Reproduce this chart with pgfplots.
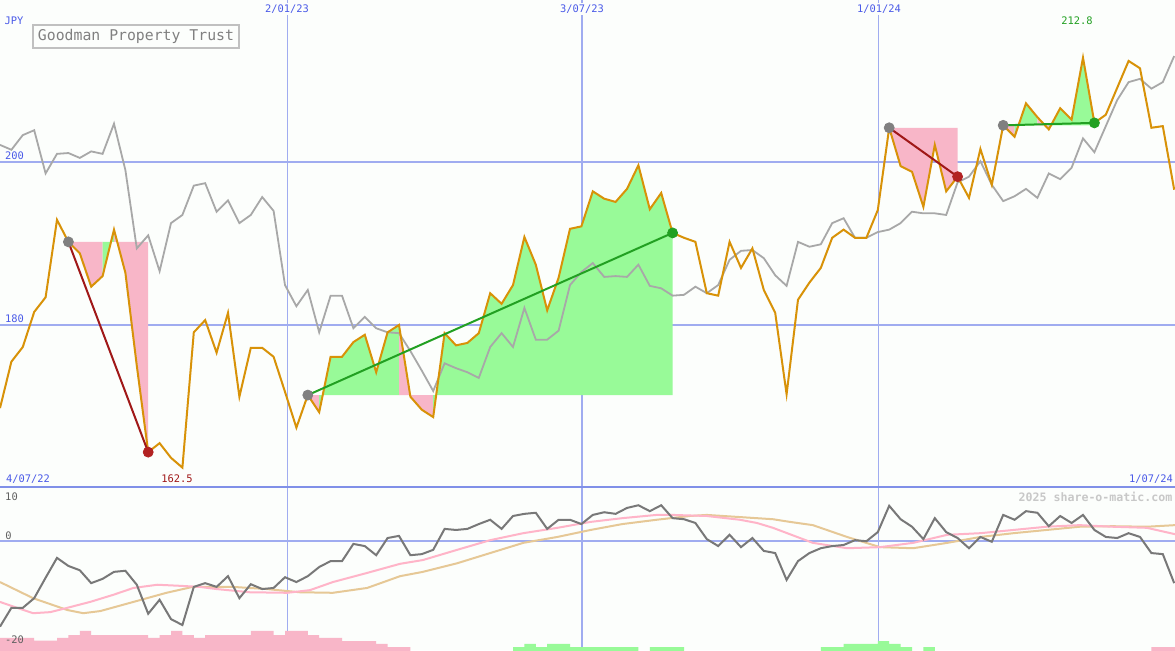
\documentclass[border=0pt]{standalone}
\usepackage{fontspec}
\setmainfont{DejaVu Sans Mono}
\usepackage{pgfplots}
\usepackage{pgfplotstable}
\pgfplotsset{compat=1.18}

\definecolor{bgcol}{RGB}{252,254,252}
\definecolor{gridblue}{RGB}{160,172,240}
\definecolor{borderblue}{RGB}{128,144,232}
\definecolor{labelblue}{RGB}{74,90,232}
\definecolor{goldline}{RGB}{216,146,8}
\definecolor{grayline}{RGB}{168,168,168}
\definecolor{tpink}{RGB}{248,182,200}
\definecolor{tgreen}{RGB}{152,250,152}
\definecolor{trendred}{RGB}{160,24,24}
\definecolor{dotred}{RGB}{178,34,34}
\definecolor{trendgreen}{RGB}{34,160,34}
\definecolor{dotgray}{RGB}{128,128,128}
\definecolor{oscgray}{RGB}{120,120,120}
\definecolor{mapink}{RGB}{255,180,200}
\definecolor{matan}{RGB}{230,200,150}
\definecolor{boxgray}{RGB}{192,192,192}
\definecolor{titlegray}{RGB}{128,128,128}
\definecolor{lowlabel}{RGB}{96,96,96}
\definecolor{wmark}{RGB}{200,200,200}

% weekly closes, JPY (week index k)
\pgfplotstableread{
k p
0 169.8
1 175.5
2 177.3
3 181.6
4 183.4
5 192.9
6 190.2
7 188.8
8 184.7
9 186.0
10 191.7
11 186.4
12 175.0
13 164.4
14 165.5
15 163.7
16 162.5
17 179.1
18 180.6
19 176.6
20 181.5
21 171.2
22 177.2
23 177.2
24 176.1
25 171.8
26 167.4
27 171.4
28 169.3
29 176.1
30 176.1
31 177.9
32 178.8
33 174.2
34 179.1
35 180.0
36 171.2
37 169.6
38 168.7
39 179.0
40 177.5
41 177.8
42 179.0
43 183.9
44 182.6
45 184.9
46 190.8
47 187.4
48 181.8
49 185.8
50 191.8
51 192.1
52 196.4
53 195.5
54 195.1
55 196.7
56 199.6
57 194.2
58 196.2
59 191.3
60 190.7
61 190.2
62 183.9
63 183.6
64 190.2
65 187.0
66 189.4
67 184.3
68 181.5
69 171.5
70 183.1
71 185.2
72 187.0
73 190.7
74 191.7
75 190.7
76 190.7
77 194.1
78 204.2
79 199.5
80 198.8
81 194.5
82 202.1
83 196.4
84 198.2
85 195.6
86 201.6
87 197.2
88 204.5
89 203.1
90 207.2
91 205.5
92 204.0
93 206.6
94 205.2
95 212.8
96 204.8
97 205.8
98 209.1
99 212.4
100 211.5
101 204.2
102 204.4
103 196.6
}\goldtab

% relative index, scaled to the price axis
\pgfplotstableread{
k p
0 202.1
1 201.5
2 203.3
3 203.9
4 198.6
5 201.0
6 201.1
7 200.5
8 201.3
9 201.0
10 204.7
11 199.0
12 189.4
13 191.0
14 186.6
15 192.5
16 193.5
17 197.1
18 197.4
19 193.9
20 195.3
21 192.5
22 193.5
23 195.7
24 194.0
25 184.9
26 182.3
27 184.3
28 179.1
29 183.6
30 183.6
31 179.6
32 181.0
33 179.6
34 179.1
35 179.0
36 176.8
37 174.4
38 171.9
39 175.3
40 174.7
41 174.2
42 173.5
43 177.3
44 179.0
45 177.3
46 182.1
47 178.2
48 178.2
49 179.3
50 184.9
51 186.5
52 187.6
53 185.9
54 186.0
55 185.9
56 187.4
57 184.8
58 184.5
59 183.6
60 183.7
61 184.7
62 183.9
63 184.9
64 188.0
65 189.1
66 189.2
67 188.2
68 186.1
69 184.8
70 190.2
71 189.6
72 189.9
73 192.5
74 193.1
75 190.7
76 190.7
77 191.4
78 191.7
79 192.5
80 193.9
81 193.7
82 193.7
83 193.5
84 197.5
85 198.2
86 200.1
87 197.2
88 195.2
89 195.8
90 196.7
91 195.6
92 198.6
93 197.9
94 199.3
95 202.9
96 201.2
97 204.4
98 207.6
99 209.8
100 210.2
101 209.0
102 209.8
103 213.0
}\graytab

% oscillator
\pgfplotstableread{
k v
0 -16.0
1 -12.5
2 -12.5
3 -10.7
4 -6.9
5 -3.2
6 -4.7
7 -5.5
8 -7.9
9 -7.1
10 -5.8
11 -5.6
12 -8.2
13 -13.6
14 -11.0
15 -14.6
16 -15.7
17 -8.6
18 -7.9
19 -8.6
20 -6.6
21 -10.7
22 -8.1
23 -9.0
24 -8.8
25 -6.8
26 -7.7
27 -6.6
28 -4.9
29 -3.8
30 -3.8
31 -0.6
32 -1.0
33 -2.7
34 0.5
35 0.9
36 -2.7
37 -2.5
38 -1.7
39 2.2
40 2.0
41 2.2
42 3.1
43 3.9
44 2.2
45 4.6
46 5.0
47 5.2
48 2.2
49 3.9
50 3.9
51 3.1
52 4.8
53 5.3
54 5.0
55 6.1
56 6.6
57 5.5
58 6.6
59 4.2
60 4.0
61 3.3
62 0.3
63 -1.0
64 1.1
65 -1.2
66 0.5
67 -1.9
68 -2.3
69 -7.3
70 -3.8
71 -2.3
72 -1.4
73 -1.0
74 -0.8
75 0.1
76 -0.1
77 1.6
78 6.5
79 4.0
80 2.6
81 0.3
82 4.2
83 1.6
84 0.5
85 -1.4
86 0.7
87 -0.2
88 4.8
89 3.9
90 5.5
91 5.2
92 2.7
93 4.6
94 3.3
95 4.8
96 2.0
97 0.7
98 0.5
99 1.4
100 0.7
101 -2.3
102 -2.5
103 -7.9
}\osctab

\pgfplotstableread{
k v
0 -11.4
1.5 -12.5
2.9 -13.5
4.4 -13.3
5.9 -12.5
7.9 -11.4
9.9 -10.1
11.7 -8.8
13.8 -8.2
15.8 -8.4
17.5 -8.6
19.0 -9.0
21.9 -9.6
25.2 -9.7
27.2 -9.2
29.2 -7.7
32.2 -6.0
35.1 -4.3
37.1 -3.6
40.1 -1.7
43.0 0.1
45.9 1.4
48.9 2.4
51.8 3.5
54.6 4.2
57.6 4.8
59.0 4.8
62.0 4.6
64.9 3.9
66.4 3.3
67.8 2.4
69.3 1.2
71.3 -0.4
74.3 -1.4
77.2 -1.2
80.1 -0.4
83.1 1.1
86.0 1.4
88.9 2.0
91.8 2.6
94.7 2.9
97.6 2.6
100.6 2.4
103.1 1.2
}\pinktab

\pgfplotstableread{
k v
0 -7.7
2.9 -10.7
5.9 -12.9
7.3 -13.5
8.8 -13.1
11.7 -11.4
14.6 -9.7
16.9 -8.6
20.4 -8.6
23.4 -9.0
26.3 -9.6
29.2 -9.7
32.2 -8.8
35.1 -6.6
37.1 -5.8
40.1 -4.2
43.0 -2.3
45.9 -0.4
48.9 0.7
51.8 2.0
54.6 3.1
57.6 3.9
60.5 4.6
62.0 4.8
64.9 4.4
67.8 4.0
69.3 3.5
71.3 2.9
74.3 0.7
77.2 -1.2
80.1 -1.4
83.1 -0.4
86.0 0.7
88.9 1.4
91.8 2.0
94.7 2.6
97.6 2.7
100.6 2.6
103.1 2.9
}\tantab

\pgfplotsset{
  panel/.style={
    scale only axis, width=587.5pt, xmin=0, xmax=103.07,
    axis line style={draw=none}, major tick length=0pt,
    xticklabels={}, yticklabels={}, extra x tick labels={}, extra y tick labels={},
    xtick={25.18,77.1}, xmajorgrids,
    major grid style={gridblue, line width=0.5pt},
    extra x ticks={51.05},
    extra x tick style={grid=major, major grid style={gridblue, line width=1.2pt}},
    ytick=\empty,
    extra y tick style={grid=major, major grid style={gridblue, line width=1.1pt}},
  },
}

\begin{document}
\begin{tikzpicture}
\fill[bgcol] (0,0) rectangle (587.5pt,325pt);
\useasboundingbox (0,0) rectangle (587.5pt,325pt);

% ---------- price panel ----------
\begin{axis}[panel, at={(0,81.5pt)}, anchor=south west, height=243.5pt,
  ymin=160.12, ymax=219.88, extra y ticks={180,200}]
  % trend shading: run of weeks below / above the start level
  \addplot[fill=tpink, draw=none] coordinates {(6,190.2) (7,188.8) (8,184.7) (9,186.0) (9,190.2)};
  \addplot[fill=tgreen, draw=none] coordinates {(9,190.2) (9,186.0) (10,191.7) (10,190.2)};
  \addplot[fill=tpink, draw=none] coordinates {(10,190.2) (10,191.7) (11,186.4) (12,175.0) (13,164.4) (13,190.2)};

  \addplot[fill=tpink, draw=none] coordinates {(27,171.4) (28,169.3) (28,171.4)};
  \addplot[fill=tgreen, draw=none] coordinates {(28,171.4) (28,169.3) (29,176.1) (30,176.1) (31,177.9)
    (32,178.8) (33,174.2) (34,179.1) (35,180.0) (35,171.4)};
  \addplot[fill=tpink, draw=none] coordinates {(35,171.4) (35,180.0) (36,171.2) (37,169.6) (38,168.7) (38,171.4)};
  \addplot[fill=tgreen, draw=none] coordinates {(38,171.4) (38,168.7) (39,179.0) (40,177.5) (41,177.8)
    (42,179.0) (43,183.9) (44,182.6) (45,184.9) (46,190.8) (47,187.4) (48,181.8) (49,185.8) (50,191.8)
    (51,192.1) (52,196.4) (53,195.5) (54,195.1) (55,196.7) (56,199.6) (57,194.2) (58,196.2) (59,191.3)
    (59,171.4)};

  \addplot[fill=tpink, draw=none] coordinates {(78,204.2) (79,199.5) (80,198.8) (81,194.5) (82,202.1)
    (83,196.4) (84,198.2) (84,204.2)};

  \addplot[fill=tpink, draw=none] coordinates {(88,204.5) (89,203.1) (89,204.5)};
  \addplot[fill=tgreen, draw=none] coordinates {(89,204.5) (89,203.1) (90,207.2) (91,205.5) (91,204.5)};
  \addplot[fill=tpink, draw=none] coordinates {(91,204.5) (91,205.5) (92,204.0) (92,204.5)};
  \addplot[fill=tgreen, draw=none] coordinates {(92,204.5) (92,204.0) (93,206.6) (94,205.2) (95,212.8)
    (96,204.8) (96,204.5)};

  \addplot[grayline, line width=0.9pt] table[x=k, y=p] {\graytab};
  \addplot[goldline, line width=1pt] table[x=k, y=p] {\goldtab};

  \addplot[trendred, line width=1pt] coordinates {(6,190.2) (13,164.4)};
  \addplot[trendgreen, line width=1pt] coordinates {(27,171.4) (59,191.3)};
  \addplot[trendred, line width=1pt] coordinates {(78,204.2) (84,198.2)};
  \addplot[trendgreen, line width=1pt] coordinates {(88,204.5) (96,204.8)};

  \addplot[only marks, mark=*, mark size=2.5pt, dotgray] coordinates {(6,190.2) (27,171.4) (78,204.2) (88,204.5)};
  \addplot[only marks, mark=*, mark size=2.5pt, dotred] coordinates {(13,164.4) (84,198.2)};
  \addplot[only marks, mark=*, mark size=2.5pt, trendgreen] coordinates {(59,191.3) (96,204.8)};
\end{axis}

% ---------- oscillator panel ----------
\begin{axis}[panel, at={(0,0)}, anchor=south west, height=81.5pt,
  ymin=-20.35, ymax=10, extra y ticks={0}]
  \addplot[const plot, fill=tpink, draw=none] coordinates {(0,-21) (0,-18.1) (3,-18.6) (5,-18.1)
    (6,-17.6) (7,-16.8) (8,-17.6) (13,-18.1) (14,-17.6) (15,-16.8) (16,-17.6) (17,-18.1) (18,-17.6)
    (22,-16.8) (24,-17.6) (25,-16.8) (27,-17.6) (28,-18.1) (30,-18.7) (33,-19.2) (34,-19.8) (36,-19.8)
    (36,-21)};
  \addplot[const plot, fill=tgreen, draw=none] coordinates {(45,-21) (45,-19.8) (46,-19.2) (47,-19.8)
    (48,-19.2) (50,-19.8) (56,-19.8) (56,-21)};
  \addplot[const plot, fill=tgreen, draw=none] coordinates {(57,-21) (57,-19.8) (60,-19.8) (60,-21)};
  \addplot[const plot, fill=tgreen, draw=none] coordinates {(72,-21) (72,-19.8) (74,-19.2) (77,-18.7)
    (78,-19.2) (79,-19.8) (80,-19.8) (80,-21)};
  \addplot[const plot, fill=tgreen, draw=none] coordinates {(81,-21) (81,-19.8) (82,-19.8) (82,-21)};
  \addplot[const plot, fill=tpink, draw=none] coordinates {(101,-21) (101,-19.8) (104,-19.8) (104,-21)};

  \addplot[matan, line width=1pt] table[x=k, y=v] {\tantab};
  \addplot[mapink, line width=1pt] table[x=k, y=v] {\pinktab};
  \addplot[oscgray, line width=1pt] table[x=k, y=v] {\osctab};
\end{axis}

% ---------- labels (pixel grid, origin top left) ----------
\begin{scope}[x=0.5pt, y=-0.5pt, shift={(0,325pt)}]
  \draw[borderblue, line width=1.2pt] (0,487) -- (1175,487);
  \tikzset{lab/.style={font=\fontsize{5.2pt}{6pt}\selectfont, inner sep=0.6pt}}
  \node[lab, text=labelblue] at (14,21) {JPY};
  \draw[boxgray, line width=1pt] (33,25) rectangle (238.5,47.5);
  \node[font=\fontsize{7.4pt}{8pt}\selectfont, text=titlegray, inner sep=0pt] at (136,36.5) {Goodman Property Trust};
  \node[lab, text=labelblue, fill=bgcol] at (287,9) {2/01/23};
  \node[lab, text=labelblue, fill=bgcol] at (582,9) {3/07/23};
  \node[lab, text=labelblue, fill=bgcol] at (879,9) {1/01/24};
  \node[lab, text=labelblue] at (14.5,156) {200};
  \node[lab, text=labelblue] at (14.5,319) {180};
  \node[lab, text=labelblue] at (28,479) {4/07/22};
  \node[lab, text=labelblue] at (1151,479) {1/07/24};
  \node[lab, text=trendred] at (177,479) {162.5};
  \node[lab, text=trendgreen] at (1077,21) {212.8};
  \node[lab, text=lowlabel] at (11.5,496.5) {10};
  \node[lab, text=lowlabel] at (8.5,535.5) {0};
  \node[lab, text=lowlabel] at (14.5,640) {-20};
  \node[font=\fontsize{5.8pt}{7pt}\selectfont\bfseries, text=wmark, inner sep=0pt] at (1095.5,496.5) {2025 share-o-matic.com};
\end{scope}
\end{tikzpicture}
\end{document}
